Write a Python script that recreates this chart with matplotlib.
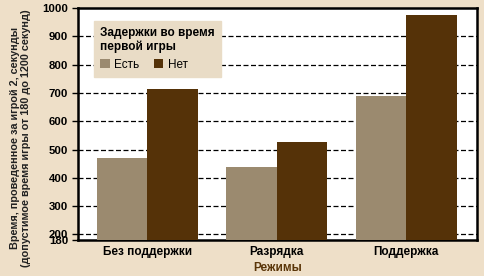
import matplotlib
matplotlib.use("Agg")
import matplotlib.pyplot as plt
import numpy as np

categories = ["Без поддержки", "Разрядка", "Поддержка"]
series_names = ["Есть", "Нет"]
vals_est = [470, 437, 689]
vals_net = [715, 526, 975]
yticks = [180, 200, 300, 400, 500, 600, 700, 800, 900, 1000]

plt.rcParams['font.family'] = ["Liberation Sans", "DejaVu Sans"]

bg = "#eedfc8"
c_light = "#9b8a6f"
c_dark = "#553208"

fig = plt.figure(figsize=(4.84, 2.76), dpi=100, facecolor=bg)
ax = fig.add_axes([0.161, 0.130, 0.825, 0.841])
ax.set_facecolor("white")

x = np.arange(len(categories))
w = 0.39
ax.bar(x - w/2, vals_est, w, color=c_light, label=series_names[0], zorder=3)
ax.bar(x + w/2, vals_net, w, color=c_dark, label=series_names[1], zorder=3)

ax.set_ylim(180, 1000)
ax.set_xlim(-0.535, 2.55)
ax.set_yticks(yticks)
ax.set_yticklabels([str(t) for t in yticks], fontweight="bold", fontsize=8.2)
for t in yticks[1:-1]:
    ax.axhline(t, color="black", linestyle=(0, (4, 2)), linewidth=0.9, zorder=1)

ax.set_xticks(x)
ax.set_xticklabels(categories, fontweight="bold", fontsize=8.5)
ax.tick_params(axis="x", length=0, pad=4)
ax.tick_params(axis="y", length=4, width=1, direction="out", pad=3)
for s in ax.spines.values():
    s.set_linewidth(1.8)
    s.set_color("black")

ax.set_xlabel("Режимы", color="#5a3508", fontweight="bold", fontsize=8.5, labelpad=3)
ax.set_ylabel("Время, проведенное за игрой 2, секунды\n(допустимое время игры от 180 до 1200 секунд)",
              fontweight="bold", fontsize=7.8, color="#222222", linespacing=1.1)
ax.yaxis.set_label_coords(-0.118, 0.44)

leg = ax.legend(title="Задержки во время\nпервой игры", ncol=2, loc="upper left",
                bbox_to_anchor=(0.035, 0.955), frameon=True, fancybox=False,
                fontsize=8.5, handlelength=0.8, handleheight=0.8, handletextpad=0.4,
                columnspacing=1.2, borderpad=0.5, borderaxespad=0.2)
leg.get_title().set_fontweight("bold")
leg.get_title().set_fontsize(8.5)
leg._legend_box.align = "left"
leg.get_frame().set_facecolor("#e9dcc6")
leg.get_frame().set_edgecolor("#e9dcc6")
leg.get_frame().set_alpha(1)
leg.set_zorder(5)

fig.savefig("out.png", dpi=100, facecolor=bg)
